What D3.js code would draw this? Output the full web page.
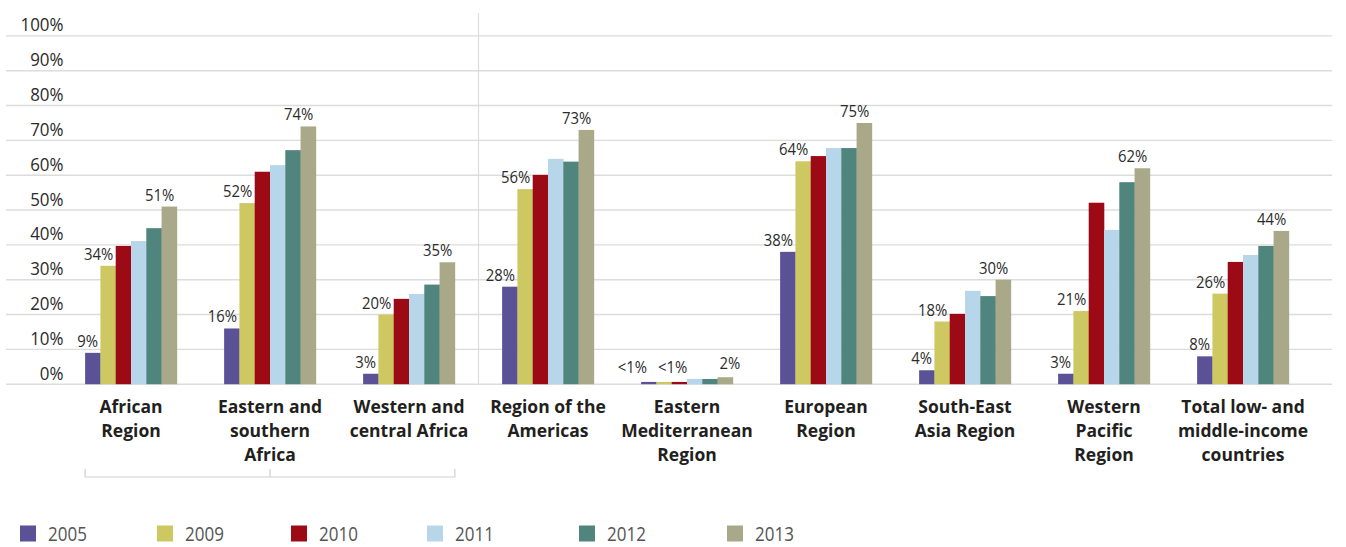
<!DOCTYPE html>
<html>
<head>
<meta charset="utf-8">
<script src="https://cdn.jsdelivr.net/npm/d3@7"></script>
<style>
  html, body { margin: 0; padding: 0; background: #fff; }
  svg { display: block; }
</style>
</head>
<body>
<svg id="chart" width="1346" height="547"></svg>
<script>
// Regions shown along the x axis (each entry is the wrapped label lines)
const categories = [
  ["African", "Region"],
  ["Eastern and", "southern", "Africa"],
  ["Western and", "central Africa"],
  ["Region of the", "Americas"],
  ["Eastern", "Mediterranean", "Region"],
  ["European", "Region"],
  ["South-East", "Asia Region"],
  ["Western", "Pacific", "Region"],
  ["Total low- and", "middle-income", "countries"]
];

const years = ["2005", "2009", "2010", "2011", "2012", "2013"];

// Coverage (%) per year, one value per region
const v2005 = [9, 16, 3, 28, 0.65, 38, 4, 3, 8];
const v2009 = [34, 52, 20, 56, 0.65, 64, 18, 21, 26];
const v2010 = [39.7, 61, 24.5, 60.1, 0.65, 65.5, 20.2, 52.1, 35.1];
const v2011 = [41.1, 62.9, 25.9, 64.7, 1.5, 67.8, 26.8, 44.3, 37.1];
const v2012 = [44.8, 67.2, 28.6, 63.9, 1.5, 67.8, 25.3, 58, 39.7];
const v2013 = [51, 74, 35, 73, 2, 75, 30, 62, 44];

// Printed value labels
const lab2005 = ["9%", "16%", "3%", "28%", "<1%", "38%", "4%", "3%", "8%"];
const lab2009 = ["34%", "52%", "20%", "56%", "<1%", "64%", "18%", "21%", "26%"];
const lab2013 = ["51%", "74%", "35%", "73%", "2%", "75%", "30%", "62%", "44%"];

const yTicks = [0, 10, 20, 30, 40, 50, 60, 70, 80, 90, 100];

const colors = ["#5a5196", "#cdc862", "#9c0a16", "#b7d6e9", "#50857d", "#a9a889"];

// ---- assemble series ----
const seriesValues = [v2005, v2009, v2010, v2011, v2012, v2013];
const seriesLabels = [lab2005, lab2009, null, null, null, lab2013];

const svg = d3.select("#chart");

const x0 = d3.scaleBand()
  .domain(d3.range(categories.length))
  .range([61.5, 1312.5])
  .paddingInner(0.34)
  .paddingOuter(0.17);

const x1 = d3.scaleBand()
  .domain(years)
  .range([0, x0.bandwidth()]);

const y = d3.scaleLinear().domain([0, 100]).range([384.2, 35.9]);

const color = d3.scaleOrdinal().domain(years).range(colors);

// ---- gridlines + y labels ----
svg.append("g").selectAll("line")
  .data(yTicks)
  .join("line")
  .attr("x1", 6).attr("x2", 1332)
  .attr("y1", d => y(d)).attr("y2", d => y(d))
  .attr("stroke", "#dcdcdc")
  .attr("stroke-width", 1.4);

const yAxis = d3.axisLeft(y)
  .tickValues(yTicks)
  .tickSize(0)
  .tickFormat(d => d + "%");

const gy = svg.append("g").attr("transform", "translate(63.5,0)").call(yAxis);
gy.select(".domain").remove();
gy.selectAll(".tick text")
  .attr("x", 0)
  .attr("dy", "-5px")
  .attr("transform", "scale(0.94,1)")
  .style("font-family", "'Open Sans', sans-serif")
  .style("font-size", "18px")
  .style("fill", "#2b2b2b");

// separator between the African sub-regions and the other regions
const sepX = (x0(2) + x0.bandwidth() + x0(3)) / 2;
svg.append("line")
  .attr("x1", sepX).attr("x2", sepX)
  .attr("y1", 13).attr("y2", y(0))
  .attr("stroke", "#dcdcdc")
  .attr("stroke-width", 1.2);

// ---- bars ----
const rows = [];
categories.forEach((c, i) => {
  years.forEach((yr, j) => {
    rows.push({ cat: i, year: yr, value: seriesValues[j][i], label: seriesLabels[j] ? seriesLabels[j][i] : null });
  });
});

svg.append("g").selectAll("rect")
  .data(rows)
  .join("rect")
  .attr("x", d => x0(d.cat) + x1(d.year))
  .attr("width", x1.bandwidth() + 0.3)
  .attr("y", d => y(d.value))
  .attr("height", d => y(0) - y(d.value))
  .attr("fill", d => color(d.year));

// hand-placed labels for the very short bars
const labelNudge = {
  "4|2005": [-7, -2.5],
  "4|2009": [18, -2.5],
  "4|2013": [10, -2.5]
};

svg.append("g").selectAll("text")
  .data(rows.filter(d => d.label))
  .join("text")
  .attr("transform", d => {
    const n = labelNudge[d.cat + "|" + d.year] || [0, 0];
    const tx = x0(d.cat) + x1(d.year) + x1.bandwidth() - 2.5 + n[0];
    const ty = y(d.value) - 6 + n[1];
    return `translate(${tx},${ty}) scale(0.9,1)`;
  })
  .attr("text-anchor", "end")
  .style("font-family", "'Open Sans', sans-serif")
  .style("font-size", "16.5px")
  .style("fill", "#2b2b2b")
  .text(d => d.label);

// ---- category labels ----
const catG = svg.append("g").selectAll("text")
  .data(categories)
  .join("text")
  .attr("x", (d, i) => x0(i) + x0.bandwidth() / 2)
  .attr("y", 413)
  .attr("text-anchor", "middle")
  .style("font-family", "'Open Sans', sans-serif")
  .style("font-weight", "700")
  .style("font-size", "17.5px")
  .style("fill", "#231f20");

catG.selectAll("tspan")
  .data(d => d)
  .join("tspan")
  .attr("x", function () { return d3.select(this.parentNode).attr("x"); })
  .attr("dy", (d, i) => i === 0 ? 0 : 23.8)
  .text(d => d);

// ---- bracket grouping the African sub-regions ----
const bL = x0(0), bR = x0(2) + x0.bandwidth(), bM = x0(1) + x0.bandwidth() / 2;
const bracket = svg.append("g")
  .attr("stroke", "#d0d0d0").attr("stroke-width", 1.2).attr("fill", "none");
bracket.append("path")
  .attr("d", `M${bL},469 V477 H${bR} V469`);
bracket.append("line")
  .attr("x1", bM).attr("x2", bM).attr("y1", 469).attr("y2", 477);

// ---- legend ----
const legendX = [20, 157, 291, 427, 579, 727];
const leg = svg.append("g").selectAll("g")
  .data(years)
  .join("g")
  .attr("transform", (d, i) => `translate(${legendX[i]},525.5)`);

leg.append("rect")
  .attr("width", 16).attr("height", 16)
  .attr("fill", d => color(d));

leg.append("text")
  .attr("transform", "translate(28,15.5) scale(0.85,1)")
  .style("font-family", "'Open Sans', sans-serif")
  .style("font-size", "20px")
  .style("fill", "#555")
  .text(d => d);
</script>
</body>
</html>
